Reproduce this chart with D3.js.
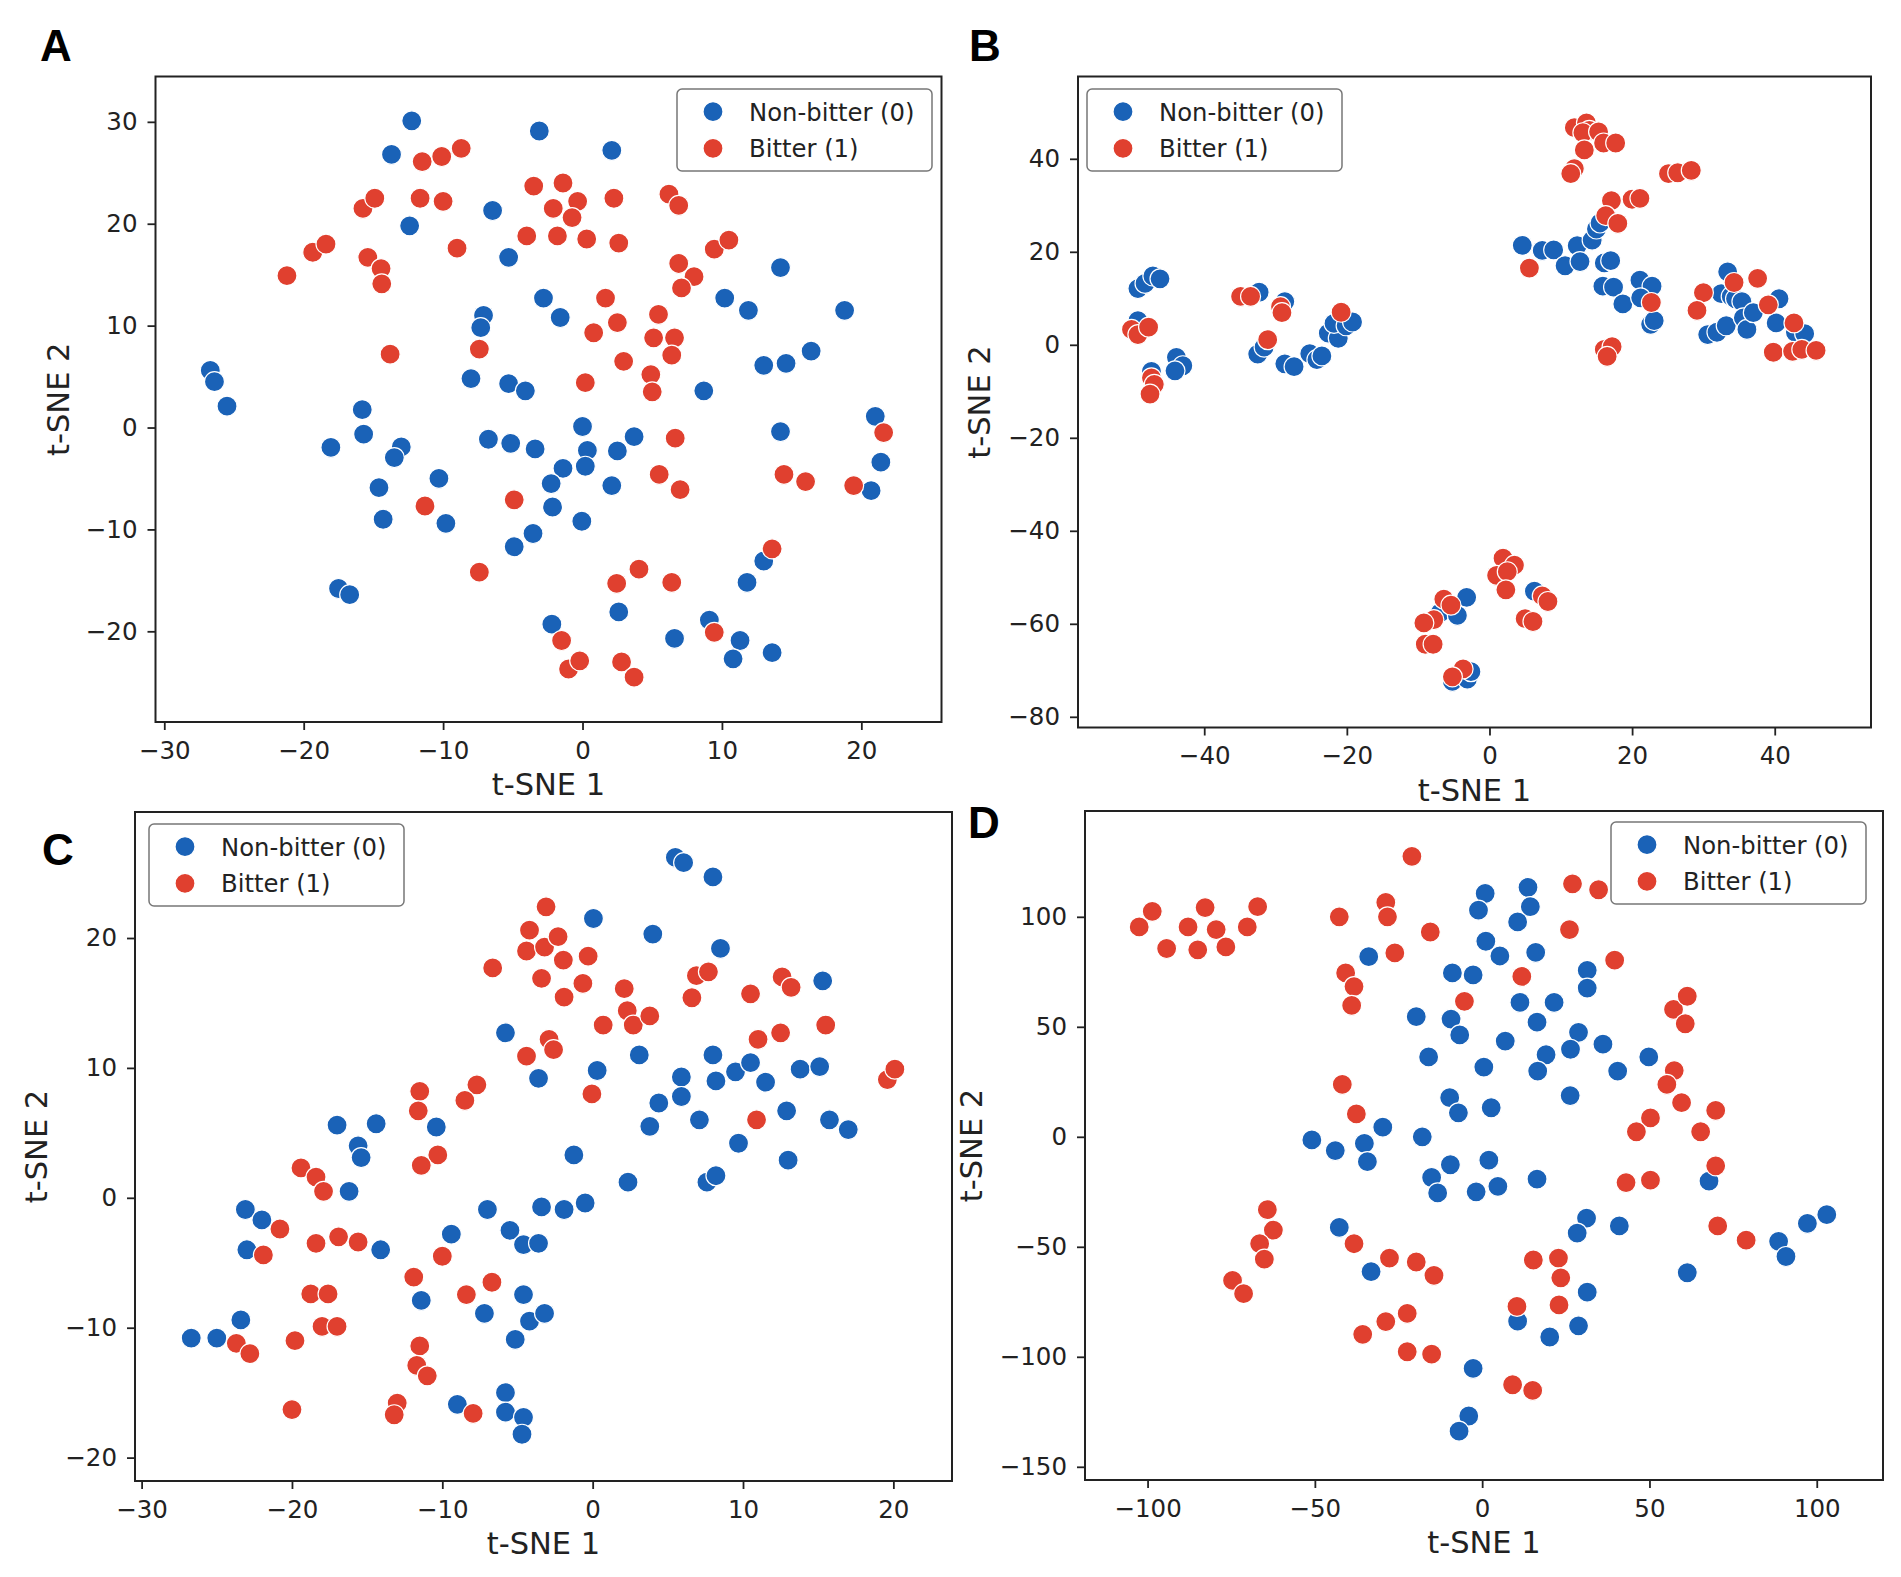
<!DOCTYPE html>
<html>
<head>
<meta charset="utf-8">
<script src="https://cdn.jsdelivr.net/npm/d3@7"></script>
<style>
  body { margin: 0; background: #fff; }
  svg { display: block; }
</style>
</head>
<body>
<div id="chart"></div>
<script>
// t-SNE coordinates, [x, y] per point
const aNonBitter = [
  [-26.7, 5.6], [-26.4, 4.5], [-25.5, 2.1], [-12.25, 30.1], [-13.7, 26.8], [-3.1, 29.1], [2.1, 27.2],
  [-12.4, 19.8], [-6.45, 21.3], [-5.3, 16.7], [14.2, 15.7], [-2.8, 12.7], [-1.6, 10.8], [-7.1, 11.0],
  [-7.3, 9.8], [10.2, 12.7], [11.9, 11.5], [18.8, 11.5], [16.4, 7.5], [13.0, 6.1], [14.6, 6.3],
  [-8.0, 4.8], [-5.3, 4.3], [-4.1, 3.6], [8.7, 3.6], [-15.8, 1.75], [-15.7, -0.65], [-18.05, -1.95],
  [-13.0, -1.9], [-13.5, -2.95], [-14.6, -5.9], [-14.3, -9.0], [-10.3, -5.0], [-9.8, -9.4],
  [-6.75, -1.15], [-5.15, -1.55], [-3.4, -2.1], [0, 0.1], [0.35, -2.25], [0.2, -3.8], [2.5, -2.3],
  [3.7, -0.9], [-1.4, -4.0], [-2.25, -5.5], [-2.15, -7.8], [2.1, -5.7], [-0.05, -9.2], [-3.55, -10.4],
  [-4.9, -11.7], [14.2, -0.4], [21.0, 1.1], [21.4, -3.4], [20.7, -6.2], [-17.5, -15.8], [-16.7, -16.4],
  [2.6, -18.1], [-2.2, -19.3], [6.6, -20.7], [9.1, -18.9], [11.3, -20.9], [10.8, -22.7], [13.6, -22.1],
  [11.8, -15.2], [13.0, -13.1]
];
const aBitter = [
  [-21.2, 14.9], [-19.35, 17.2], [-18.4, 18.0], [-15.75, 21.5], [-14.9, 22.5], [-15.4, 16.7],
  [-14.45, 15.6], [-14.4, 14.1], [-13.8, 7.2], [-11.5, 26.1], [-10.1, 26.6], [-8.7, 27.4],
  [-11.65, 22.5], [-10.0, 22.2], [-9.0, 17.6], [-7.4, 7.7], [-11.3, -7.7], [-4.9, -7.1], [-7.4, -14.2],
  [-3.5, 23.7], [-1.4, 24.0], [-2.1, 21.5], [-0.35, 22.2], [-0.75, 20.6], [-4.0, 18.8], [-1.8, 18.8],
  [0.3, 18.5], [2.25, 22.5], [2.6, 18.1], [1.65, 12.7], [2.5, 10.3], [0.8, 9.3], [2.95, 6.5], [0.2, 4.4],
  [5.45, 11.1], [5.1, 8.8], [6.6, 8.8], [6.4, 7.1], [4.9, 5.2], [5.0, 3.5], [6.2, 22.9], [6.9, 21.8],
  [9.45, 17.5], [10.5, 18.4], [6.9, 16.1], [8.0, 14.8], [7.1, 13.7], [6.65, -1.05], [5.5, -4.6],
  [7.0, -6.1], [14.45, -4.6], [16.0, -5.3], [19.45, -5.7], [21.6, -0.5], [13.6, -11.9], [4.05, -13.9],
  [2.45, -15.3], [6.4, -15.2], [9.45, -20.1], [-1.5, -20.9], [-1.0, -23.7], [-0.2, -22.9], [2.8, -23.0],
  [3.7, -24.5]
];

const bNonBitter = [
  [-49.3, 12.1], [-48.3, 13.2], [-47.2, 14.8], [-46.2, 14.2], [-49.3, 5.2], [-47.4, -5.7], [-43.9, -2.7],
  [-43.0, -4.5], [-44.1, -5.6], [-32.3, 11.3], [-32.5, -2.0], [-31.6, -0.5], [-28.7, 9.3], [-28.7, -4.1],
  [-27.4, -4.7], [-25.2, -1.9], [-24.2, -3.2], [-23.5, -2.4], [-22.6, 2.5], [-21.2, 1.4], [-21.8, 4.6],
  [-20.1, 4.1], [-19.2, 4.9], [4.6, 21.4], [7.4, 20.3], [9.0, 20.4], [10.6, 17.0], [12.3, 21.3],
  [12.7, 17.9], [14.4, 22.5], [15.0, 24.9], [15.5, 26.2], [16.1, 17.6], [17.0, 18.1], [15.9, 12.6],
  [17.4, 12.4], [18.7, 8.8], [21.1, 13.9], [22.8, 12.6], [21.2, 10.1], [22.6, 4.4], [23.1, 5.2],
  [30.6, 2.2], [31.9, 2.7], [33.2, 4.1], [32.5, 11.0], [33.4, 15.7], [33.9, 10.4], [34.5, 9.9],
  [35.4, 9.3], [35.6, 5.8], [36.1, 3.3], [37.0, 6.9], [40.6, 9.9], [40.2, 4.7], [42.9, 2.7], [44.2, 2.4],
  [-6.9, -57.6], [-4.5, -58.2], [-3.2, -54.3], [6.3, -53.0], [-5.2, -72.4], [-3.1, -71.9], [-2.6, -70.3]
];
const bBitter = [
  [-50.2, 3.3], [-49.3, 2.2], [-47.8, 3.8], [-47.4, -7.1], [-47.0, -8.5], [-47.6, -10.6], [-34.9, 10.4],
  [-33.5, 10.4], [-29.3, 8.2], [-29.1, 6.9], [-31.1, 1.1], [-20.8, 7.0], [11.9, 37.9], [11.4, 36.8],
  [11.9, 46.7], [13.6, 47.7], [14.0, 46.1], [13.1, 45.6], [15.3, 45.8], [16.0, 43.4], [17.7, 43.4],
  [13.3, 41.9], [25.1, 36.8], [26.4, 37.0], [28.3, 37.5], [20.0, 31.3], [21.1, 31.5], [17.1, 31.0],
  [16.3, 27.8], [18.0, 26.1], [5.6, 16.5], [22.7, 9.1], [34.3, 13.4], [30.0, 11.2], [29.1, 7.4],
  [37.6, 14.3], [39.1, 8.6], [42.7, 4.7], [39.8, -1.6], [42.5, -1.4], [43.8, -1.0], [45.8, -1.2],
  [16.1, -1.0], [17.2, -0.4], [16.5, -2.5], [1.9, -45.9], [3.5, -47.4], [1.0, -49.6], [2.5, -48.8],
  [2.3, -52.7], [-6.4, -54.7], [-5.4, -56.0], [-7.8, -59.1], [-9.2, -59.8], [-9.0, -64.4], [-7.9, -64.4],
  [-3.7, -69.7], [-5.2, -71.4], [5.0, -58.9], [6.1, -59.5], [7.4, -54.0], [8.2, -55.2]
];

const cNonBitter = [
  [5.5, 26.2], [6.05, 25.8], [8.0, 24.7], [0.05, 21.5], [4.0, 20.3], [8.5, 19.2], [15.3, 16.7],
  [-5.8, 12.7], [-3.6, 9.2], [0.3, 9.8], [3.1, 11.0], [5.9, 9.3], [5.9, 7.8], [4.4, 7.3], [3.8, 5.5],
  [7.1, 6.0], [8.0, 11.0], [8.2, 9.0], [9.5, 9.7], [10.5, 10.4], [11.5, 8.9], [13.8, 9.9], [15.1, 10.1],
  [12.9, 6.7], [15.75, 6.0], [17.0, 5.25], [9.7, 4.2], [13.0, 2.9], [7.6, 1.2], [8.2, 1.7], [2.35, 1.2],
  [-1.25, 3.3], [-0.5, -0.4], [-1.9, -0.9], [-3.4, -0.7], [-7.0, -0.9], [-5.5, -2.5], [-4.6, -3.6],
  [-3.6, -3.5], [-9.4, -2.8], [-14.1, -4.0], [-16.2, 0.5], [-17.0, 5.6], [-14.4, 5.7], [-15.6, 4.0],
  [-15.4, 3.1], [-10.4, 5.45], [-23.1, -0.9], [-22.0, -1.7], [-23.0, -4.0], [-23.4, -9.4], [-26.7, -10.8],
  [-25.0, -10.8], [-11.4, -7.9], [-7.2, -8.9], [-4.6, -7.45], [-4.2, -9.5], [-3.2, -8.9], [-5.15, -10.9],
  [-9.0, -15.9], [-5.8, -15.0], [-5.8, -16.5], [-4.6, -16.9], [-4.7, -18.2]
];
const cBitter = [
  [-3.1, 22.4], [-4.2, 20.6], [-4.4, 19.0], [-3.2, 19.3], [-2.3, 20.1], [-1.95, 18.3], [-0.3, 18.6],
  [-6.65, 17.7], [-3.4, 16.9], [-1.9, 15.45], [-0.65, 16.5], [2.1, 16.1], [2.3, 14.4], [2.7, 13.3],
  [3.8, 14.0], [0.7, 13.3], [6.9, 17.1], [7.7, 17.4], [6.6, 15.4], [10.5, 15.7], [12.6, 17.0],
  [13.2, 16.2], [15.5, 13.3], [12.5, 12.7], [11.0, 12.2], [10.9, 6.0], [19.6, 9.1], [20.1, 9.9],
  [-2.9, 12.2], [-2.6, 11.4], [-4.4, 10.9], [-0.05, 8.0], [-7.7, 8.7], [-8.5, 7.5], [-11.5, 8.2],
  [-11.6, 6.7], [-10.3, 3.3], [-11.4, 2.5], [-19.4, 2.3], [-18.4, 1.6], [-17.9, 0.5], [-20.8, -2.4],
  [-18.4, -3.5], [-16.9, -3.0], [-15.6, -3.4], [-21.9, -4.4], [-10.0, -4.5], [-11.9, -6.1], [-6.7, -6.5],
  [-8.4, -7.45], [-18.75, -7.4], [-17.6, -7.4], [-18.0, -9.9], [-17.0, -9.9], [-19.8, -11.0],
  [-23.7, -11.2], [-22.8, -12.0], [-11.5, -11.4], [-11.7, -12.9], [-11.0, -13.7], [-20.0, -16.3],
  [-13.0, -15.8], [-13.2, -16.7], [-7.95, -16.6]
];

const dNonBitter = [
  [0.9, 110.6], [13.7, 113.4], [14.4, 104.6], [-1.1, 103.0], [10.6, 97.7], [1.1, 88.9], [5.3, 82.2],
  [16.0, 83.8], [-33.9, 81.9], [-8.9, 74.5], [-2.7, 73.6], [31.4, 75.7], [31.4, 67.6], [11.3, 61.1],
  [21.5, 61.1], [-19.7, 54.6], [-9.3, 53.5], [-6.7, 46.3], [16.4, 52.1], [6.9, 43.5], [28.8, 47.5],
  [36.1, 42.1], [26.4, 39.8], [19.1, 37.3], [16.6, 29.9], [0.5, 31.7], [-16.0, 36.3], [49.8, 36.3],
  [40.5, 29.9], [26.3, 18.75], [-9.7, 17.8], [-7.1, 10.9], [2.7, 13.2], [-29.7, 4.4], [-17.9, 0],
  [-50.9, -1.4], [-43.9, -6.25], [-35.2, -3.0], [-34.3, -11.3], [-9.5, -12.7], [2.0, -10.6],
  [-15.1, -18.5], [-13.3, -25.5], [-1.8, -25.0], [4.7, -22.5], [16.4, -19.2], [31.2, -37.0],
  [28.4, -43.75], [41.0, -40.5], [67.8, -20.1], [-42.7, -41.2], [-33.2, -61.3], [31.4, -70.6],
  [28.8, -85.9], [20.2, -91.0], [10.6, -83.8], [61.3, -61.8], [88.6, -47.5], [90.8, -54.4],
  [97.2, -39.35], [103.0, -35.4], [-2.7, -105.3], [-4.0, -126.9], [-6.9, -133.8]
];
const dBitter = [
  [-102.5, 95.4], [-98.6, 102.5], [-94.3, 85.6], [-87.9, 95.4], [-82.8, 104.2], [-85.0, 85.0],
  [-79.5, 94.2], [-76.6, 86.3], [-70.2, 95.4], [-67.1, 104.6], [-21.0, 127.5], [-42.7, 100.0],
  [-28.8, 106.5], [-28.3, 100.0], [-15.5, 93.1], [-26.1, 83.6], [-40.8, 74.5], [-38.3, 68.3],
  [-39.0, 59.7], [-5.3, 61.6], [11.85, 72.9], [27.0, 115.0], [34.8, 112.3], [26.1, 94.2], [39.6, 80.3],
  [57.2, 57.9], [61.3, 63.9], [60.7, 51.4], [57.4, 30.1], [55.2, 23.8], [59.6, 15.5], [69.8, 12.0],
  [50.3, 8.6], [46.1, 2.3], [65.3, 2.3], [69.8, -13.2], [50.3, -19.7], [43.0, -20.8], [-41.8, 23.8],
  [-37.6, 10.4], [-64.2, -33.1], [-62.4, -42.4], [-66.5, -48.6], [-65.1, -55.6], [-74.6, -65.3],
  [-71.3, -71.3], [-38.3, -48.6], [-27.7, -55.1], [-19.7, -56.9], [-14.4, -63.0], [-28.8, -84.0],
  [-22.4, -80.3], [-35.7, -89.8], [-22.4, -97.7], [-15.1, -98.8], [15.3, -56.0], [22.8, -55.1],
  [23.5, -64.1], [22.97, -76.4], [10.4, -77.1], [9.1, -112.7], [15.1, -115.3], [70.4, -40.5],
  [78.9, -47.0]
];

const aXTicks = [-30, -20, -10, 0, 10, 20];
const aYTicks = [-20, -10, 0, 10, 20, 30];
const bXTicks = [-40, -20, 0, 20, 40];
const bYTicks = [-80, -60, -40, -20, 0, 20, 40];
const cXTicks = [-30, -20, -10, 0, 10, 20];
const cYTicks = [-20, -10, 0, 10, 20];
const dXTicks = [-100, -50, 0, 50, 100];
const dYTicks = [-150, -100, -50, 0, 50, 100];

const legendLabels = ['Non-bitter (0)', 'Bitter (1)'];
const colors = ['#1a62b7', '#e0402f'];

const width = 1901;
const height = 1577;
const fontFamily = '"DejaVu Sans", Verdana, sans-serif';
const markerR = 10;

const panels = [
  {
    letter: 'A', letterX: 40, letterY: 61,
    box: [155.5, 941.5, 76.5, 722], xDomain: [-30.63, 25.75], yDomain: [-28.9, 34.45],
    xTicks: aXTicks, yTicks: aYTicks, series: [aNonBitter, aBitter],
    legend: [677, 89], yLabelX: 69,
  },
  {
    letter: 'B', letterX: 969, letterY: 61,
    box: [1078, 1871, 76.5, 727.5], xDomain: [-57.7, 53.5], yDomain: [-82.3, 57.7],
    xTicks: bXTicks, yTicks: bYTicks, series: [bNonBitter, bBitter],
    legend: [1087, 89], yLabelX: 990,
  },
  {
    letter: 'C', letterX: 42, letterY: 865,
    box: [135, 952, 812, 1481], xDomain: [-30.44, 23.9], yDomain: [-21.8, 29.7],
    xTicks: cXTicks, yTicks: cYTicks, series: [cNonBitter, cBitter],
    legend: [149, 824], yLabelX: 47,
  },
  {
    letter: 'D', letterX: 968, letterY: 838,
    box: [1085, 1883, 811, 1480], xDomain: [-118.7, 119.8], yDomain: [-156, 148.1],
    xTicks: dXTicks, yTicks: dYTicks, series: [dNonBitter, dBitter],
    legend: [1611, 822], yLabelX: 982,
  },
];

const svg = d3.select('#chart').append('svg')
  .attr('width', width)
  .attr('height', height);

svg.append('rect').attr('width', width).attr('height', height).attr('fill', '#fff');

const fmt = (d) => String(d).replace('-', '\u2212');

panels.forEach((p) => {
  const [x0, x1, y0, y1] = p.box;
  const x = d3.scaleLinear().domain(p.xDomain).range([x0, x1]);
  const y = d3.scaleLinear().domain(p.yDomain).range([y1, y0]);
  const g = svg.append('g');

  // points
  p.series.forEach((pts, i) => {
    g.append('g')
      .selectAll('circle')
      .data(pts)
      .join('circle')
      .attr('cx', (d) => x(d[0]))
      .attr('cy', (d) => y(d[1]))
      .attr('r', markerR)
      .attr('fill', colors[i])
      .attr('stroke', '#fff')
      .attr('stroke-width', 1.2);
  });

  // axes
  const xAxis = g.append('g')
    .attr('transform', `translate(0,${y1})`)
    .call(d3.axisBottom(x).tickValues(p.xTicks).tickFormat(fmt).tickSize(8).tickPadding(11.5));
  const yAxis = g.append('g')
    .attr('transform', `translate(${x0},0)`)
    .call(d3.axisLeft(y).tickValues(p.yTicks).tickFormat(fmt).tickSize(8).tickPadding(10));
  [xAxis, yAxis].forEach((ax) => {
    ax.select('.domain').remove();
    ax.selectAll('line').attr('stroke', '#222').attr('stroke-width', 1.8);
    ax.selectAll('text')
      .attr('fill', '#222')
      .style('font-family', fontFamily)
      .style('font-size', '24.5px');
  });

  // frame
  g.append('rect')
    .attr('x', x0).attr('y', y0)
    .attr('width', x1 - x0).attr('height', y1 - y0)
    .attr('fill', 'none')
    .attr('stroke', '#222')
    .attr('stroke-width', 2);

  // axis titles
  g.append('text')
    .attr('x', (x0 + x1) / 2)
    .attr('y', y1 + 73)
    .attr('text-anchor', 'middle')
    .style('font-family', fontFamily)
    .style('font-size', '30.5px')
    .attr('fill', '#222')
    .text('t-SNE 1');
  g.append('text')
    .attr('transform', `translate(${p.yLabelX},${(y0 + y1) / 2}) rotate(-90)`)
    .attr('text-anchor', 'middle')
    .style('font-family', fontFamily)
    .style('font-size', '30.5px')
    .attr('fill', '#222')
    .text('t-SNE 2');

  // legend
  const [lx, ly] = p.legend;
  const lg = g.append('g').attr('transform', `translate(${lx},${ly})`);
  lg.append('rect')
    .attr('width', 255).attr('height', 82)
    .attr('rx', 5)
    .attr('fill', '#fff')
    .attr('fill-opacity', 0.85)
    .attr('stroke', '#777')
    .attr('stroke-width', 1.5);
  legendLabels.forEach((label, i) => {
    const cy = 22.7 + i * 36.6;
    lg.append('circle')
      .attr('cx', 36).attr('cy', cy).attr('r', markerR)
      .attr('fill', colors[i])
      .attr('stroke', '#fff')
      .attr('stroke-width', 1.2);
    lg.append('text')
      .attr('x', 72).attr('y', cy + 8.8)
      .style('font-family', fontFamily)
      .style('font-size', '24.3px')
      .attr('fill', '#222')
      .text(label);
  });

  // panel letter
  svg.append('text')
    .attr('x', p.letterX)
    .attr('y', p.letterY)
    .style('font-family', '"Liberation Sans", Arial, sans-serif')
    .style('font-weight', 'bold')
    .style('font-size', '44px')
    .attr('fill', '#000')
    .text(p.letter);
});
</script>
</body>
</html>
